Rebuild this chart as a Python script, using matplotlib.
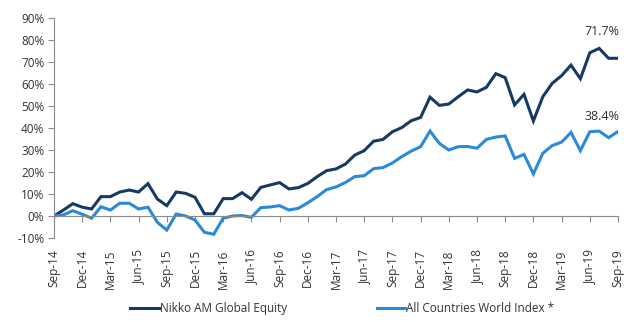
import matplotlib
matplotlib.use("Agg")
import matplotlib.pyplot as plt
import pandas as pd

# monthly cumulative returns (%), Sep-14 .. Sep-19
months = pd.date_range("2014-09-01", "2019-09-01", freq="MS")
nikko = [0, 2.7, 5.6, 4.0, 3.2, 8.8, 8.8, 10.9, 11.8, 10.9, 14.7, 7.7, 4.7,
         10.9, 10.3, 8.5, 1.0, 1.0, 7.9, 7.9, 10.6, 7.6, 13.0, 14.1, 15.2,
         12.3, 12.9, 14.8, 17.9, 20.6, 21.4, 23.6, 27.7, 29.7, 34.0, 34.8,
         38.3, 40.2, 43.3, 44.8, 54.0, 50.3, 50.9, 54.2, 57.3, 56.4, 58.5,
         64.7, 62.9, 50.5, 55.3, 43.2, 54.2, 60.3, 63.8, 68.6, 62.4, 74.2,
         76.2, 71.7, 71.7]
acwi = [0, 0.5, 2.4, 0.8, -1.0, 4.2, 2.7, 5.8, 5.8, 3.2, 4.0, -2.9, -6.4,
        0.9, 0.0, -1.8, -7.4, -8.3, -1.0, 0.0, 0.2, -0.6, 3.8, 4.1, 4.7,
        2.7, 3.5, 6.0, 8.8, 12.0, 13.2, 15.2, 17.9, 18.3, 21.5, 22.0, 24.1,
        27.0, 29.5, 31.5, 38.6, 33.0, 30.0, 31.5, 31.6, 30.8, 34.8, 35.9,
        36.4, 26.2, 28.0, 19.1, 28.5, 32.0, 33.6, 38.0, 29.7, 38.3, 38.6,
        35.6, 38.4]
tick_labels = ["Sep-14", "Dec-14", "Mar-15", "Jun-15", "Sep-15", "Dec-15",
               "Mar-16", "Jun-16", "Sep-16", "Dec-16", "Mar-17", "Jun-17",
               "Sep-17", "Dec-17", "Mar-18", "Jun-18", "Sep-18", "Dec-18",
               "Mar-19", "Jun-19", "Sep-19"]
yticks = list(range(-10, 91, 10))

dark = "#163a63"
light = "#2b89d9"
txt = "#333333"
plt.rcParams["font.family"] = ["Open Sans", "DejaVu Sans"]

fig = plt.figure(figsize=(6.42, 3.22), dpi=100)
ax = fig.add_axes([0.0841, 0.2609, 0.8785, 0.6831])

x = list(range(len(months)))
ax.plot(x, nikko, color=dark, lw=2.2, solid_joinstyle="miter", label="Nikko AM Global Equity")
ax.plot(x, acwi, color=light, lw=2.2, solid_joinstyle="miter", label="All Countries World Index *")

for s in ["top", "right"]:
    ax.spines[s].set_visible(False)
ax.spines["bottom"].set_position(("data", 0))
ax.spines["left"].set_color("#8c8c8c")
ax.spines["bottom"].set_color("#8c8c8c")

ax.set_xlim(0, len(months) - 1)
ax.set_ylim(-10, 90)
ax.set_yticks(yticks)
ax.set_yticklabels([f"{v}%" for v in yticks])
ax.set_xticks(x[::3])
ax.set_xticklabels(tick_labels, rotation=90)
ax.tick_params(axis="y", length=4, color="#8c8c8c", labelsize=8.5, labelcolor=txt, pad=3)
ax.tick_params(axis="x", length=4, color="#8c8c8c", labelsize=8.5, labelcolor=txt, pad=20)

# end-value labels
ax.annotate(f"{nikko[-1]}%", (x[-1], nikko[-1]), xytext=(1, 19), textcoords="offset points",
            ha="right", va="center", fontsize=9, color=txt)
ax.annotate(f"{acwi[-1]}%", (x[-1], acwi[-1]), xytext=(1, 11), textcoords="offset points",
            ha="right", va="center", fontsize=9, color=txt)

fig.legend(loc="lower center", bbox_to_anchor=(0.533, -0.012), ncol=2, frameon=False,
           fontsize=8.5, handlelength=2.4, handletextpad=0.1, columnspacing=7.6,
           labelcolor=txt)

fig.savefig("out.png", dpi=100)
